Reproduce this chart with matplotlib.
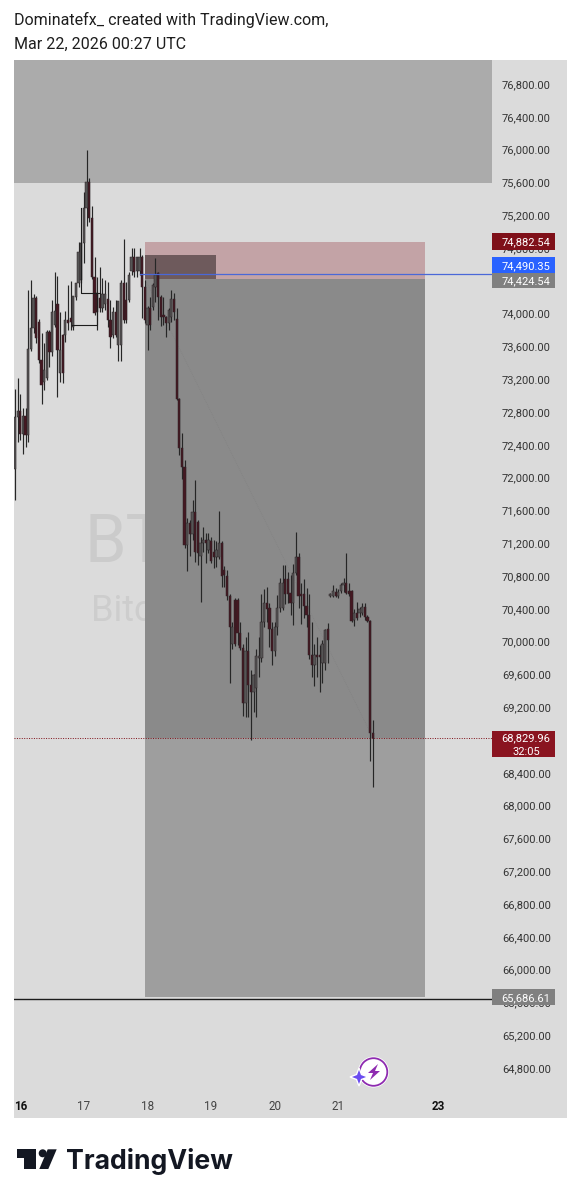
import matplotlib

matplotlib.use("Agg", force=True)
import matplotlib.pyplot as plt
from matplotlib.patches import Circle, Polygon, Rectangle

# hourly candles
opens = [72100, 72740, 72810, 72530, 72750, 72520, 73570, 73820, 74190, 73900,
         73430, 73160, 73210, 73780, 73530, 73860, 74120, 73270, 73740, 73740,
         73920, 73950, 73840, 74200, 74370, 74410, 74860, 75290, 75600, 75170,
         74450, 74250, 74190, 74070, 74120, 74180, 73920, 73740, 74020, 73620,
         73620, 74370, 74170, 74170, 74520, 74690, 74520, 74520, 74690, 74320,
         73860, 74070, 74080, 74320, 74500, 74200, 73980, 73960, 73880, 73960,
         74180, 73940, 72960, 72360, 72130, 71180, 71450, 71310, 71580, 71460,
         71050, 71200, 71240, 71120, 71230, 71090, 71030, 71030, 71200, 70870,
         70800, 70560, 69970, 70510, 70510, 70100, 69920, 69250, 69880, 69470,
         69380, 69430, 69800, 69800, 70240, 70470, 70410, 70150, 69880, 70180,
         70410, 70410, 70760, 70760, 70590, 70470, 70840, 71030, 70580, 70580,
         70440, 70320, 69840, 69720, 69840, 69840, 69740, 69740, 70150, 70560,
         70560, 70610, 70560, 70620, 70690, 70710, 70620, 70620, 70260, 70350,
         70350, 70350, 70420, 70300, 70250, 68890]
highs = [73080, 73210, 73020, 72850, 72850, 74290, 74410, 74240, 74210, 73940,
         73760, 73640, 73800, 73800, 74170, 74510, 74460, 74020, 73750, 74030,
         74350, 74400, 74210, 74370, 74870, 74870, 75480, 75995, 75650, 75310,
         74690, 74450, 74570, 74430, 74410, 74380, 74170, 74080, 74170, 74150,
         74410, 74910, 74380, 74510, 74800, 74800, 74690, 74800, 74720, 74410,
         74090, 74200, 74370, 74680, 74510, 74230, 74200, 73970, 74070, 74290,
         74250, 74070, 72970, 72540, 72210, 71510, 71480, 71730, 71970, 71480,
         71280, 71400, 71320, 71330, 71280, 71240, 71230, 71590, 71230, 70920,
         70870, 70580, 70240, 70530, 70530, 70240, 69970, 70060, 70120, 69650,
         69610, 69910, 70060, 70580, 70640, 70660, 70470, 70240, 70240, 70570,
         70770, 70940, 70940, 70850, 70810, 70950, 71340, 71080, 70710, 70760,
         70650, 70580, 70240, 69970, 70060, 69960, 70020, 70150, 70230, 70590,
         70690, 70650, 70640, 70720, 70770, 71080, 70710, 70630, 70400, 70480,
         70420, 70470, 70470, 70320, 70260, 69040]
lows = [71730, 72430, 72460, 72290, 72370, 72430, 73540, 73760, 73640, 73400,
        72900, 73070, 73190, 73350, 73480, 73840, 72980, 73160, 73150, 73650,
        73800, 73800, 73800, 74170, 74330, 74370, 74620, 75070, 75120, 74420,
        73980, 73800, 74020, 74020, 74040, 73840, 73580, 73700, 73710, 73420,
        73420, 73880, 73880, 74140, 74470, 74450, 74450, 74470, 73950, 73880,
        73560, 73800, 74040, 74140, 73920, 73850, 73860, 73710, 73800, 73900,
        73920, 72950, 72270, 71980, 71140, 70860, 71040, 71240, 70970, 70930,
        70480, 71090, 70960, 71080, 70960, 70900, 70910, 71010, 70670, 70670,
        70510, 69500, 69910, 69950, 69960, 69900, 69090, 69080, 69080, 68800,
        69140, 69080, 69570, 69750, 70180, 70240, 69930, 69710, 69830, 70080,
        70360, 70380, 70460, 70470, 70320, 70200, 70810, 70410, 70220, 70290,
        70180, 69790, 69570, 69460, 69570, 69380, 69500, 69650, 69740, 70540,
        70540, 70540, 70530, 70590, 70610, 70580, 70560, 70240, 70190, 70260,
        70300, 70320, 70260, 70240, 68540, 68230]
closes = [72740, 72810, 72530, 72750, 72520, 73570, 73820, 74190, 73700, 73430,
          73130, 73310, 73780, 73530, 74020, 74030, 73560, 73560, 73270, 73920,
          73880, 73900, 74210, 74370, 74750, 74860, 75290, 75600, 75170, 74450,
          74010, 74020, 74070, 74240, 74240, 73920, 73710, 74020, 73740, 74150,
          74370, 73920, 73920, 74470, 74690, 74510, 74690, 74690, 74320, 73920,
          74070, 73860, 74350, 74470, 74200, 73960, 73960, 73880, 74040, 74180,
          74020, 72960, 72360, 72130, 71180, 71450, 71310, 71580, 71090, 71080,
          71200, 71240, 71200, 71240, 70980, 71030, 71120, 71200, 70800, 70810,
          70560, 70180, 70180, 69970, 70100, 69920, 69250, 69880, 69470, 69380,
          69590, 69820, 69820, 70240, 70470, 70400, 70150, 69880, 70180, 70410,
          70710, 70710, 70580, 70580, 70470, 70840, 71030, 70560, 70560, 70440,
          70320, 69840, 69720, 69840, 69810, 69810, 69970, 70140, 70020, 70580,
          70620, 70560, 70610, 70690, 70710, 70590, 70580, 70250, 70350, 70290,
          70400, 70420, 70300, 70250, 68890, 68830]

price_ticks = list(range(64800, 77200, 400))
day_positions = [2, 26, 50, 74, 98, 122, 159.7]
day_labels = ["16", "17", "18", "19", "20", "21", "23"]
bold_days = ["16", "23"]

# drawing tool levels, as bar index and price
top_zone = (75593, 77093)
box_start, box_end, small_box_end = 49, 154.7, 75.85
stop_level = 74870
entry_level = 74424.54
target_level = 65660
line_level = 74480
last_price = 68829.96
target_line = 65640
small_box_top = 74710
path_one_x = [24.9, 24.9, 32]
path_one_y = [75290, 74250, 74250]
path_two_x = [21.5, 31, 31]
path_two_y = [73860, 73860, 74250]

BG = "#dbdbdb"
UP = "#555555"
DOWN = "#451822"
WICK = "#262626"
LABEL_FONT = ["Roboto", "DejaVu Sans"]
W, H = 581, 1200


def price_tag(ax, top, bottom, lines, color):
    trans = ax.get_yaxis_transform()
    box_w = 63 / 478
    ax.add_patch(Rectangle((1, bottom), box_w, top - bottom, transform=trans, color=color,
                           clip_on=False, zorder=6, lw=0))
    step = (top - bottom) / len(lines)
    for n, line in enumerate(lines):
        ax.text(1 + box_w * 0.54, top - step * (n + 0.5), line, transform=trans, color="white",
                ha="center", va="center_baseline", fontsize=8.0, family=LABEL_FONT, zorder=7, clip_on=False)


def draw_logo(page):
    black = "#131722"
    page.add_patch(Polygon([(16.7, 1149.3), (36, 1149.3), (36, 1169), (24.3, 1169), (24.3, 1158.3), (16.7, 1158.3)],
                           color=black, lw=0))
    page.add_patch(Circle((42.7, 1153.3), 4, color=black, lw=0))
    page.add_patch(Polygon([(47.7, 1149.3), (56.7, 1149.3), (48.3, 1169), (39.3, 1169)], color=black, lw=0))
    page.text(66, 1169, "TradingView", fontsize=19.2, family=["Inter", "DejaVu Sans"], weight="bold",
              color=black, va="baseline", ha="left")


def draw_badge(page):
    page.add_patch(Circle((373.5, 1072), 15.5, color="white", lw=0))
    page.add_patch(Circle((373.5, 1072), 13.8, facecolor="white", edgecolor="#8e2bb0", lw=1.3))
    page.add_patch(Polygon([(378, 1064), (368, 1073), (373, 1073), (370, 1080), (380, 1071), (375, 1071)],
                           color="#8e2bb0", lw=0))
    page.add_patch(Polygon([(359, 1068), (361.5, 1074.5), (368, 1077), (361.5, 1079.5), (359, 1086), (356.5, 1079.5),
                            (350, 1077), (356.5, 1074.5)], facecolor="#6a4cf0", edgecolor="white", lw=1))


def main():
    fig = plt.figure(figsize=(W / 100, H / 100), dpi=100, facecolor="white")

    page = fig.add_axes([0, 0, 1, 1], zorder=0)
    page.set_xlim(0, W)
    page.set_ylim(H, 0)
    page.axis("off")
    page.add_patch(Rectangle((14, 60), 553, 1058, color=BG, lw=0))
    page.text(14, 20, "Dominatefx_ created with TradingView.com,", fontsize=11.5, family=LABEL_FONT,
              color="#1e1e1e", va="center")
    page.text(14, 44, "Mar 22, 2026 00:27 UTC", fontsize=11.5, family=LABEL_FONT, color="#1e1e1e", va="center")
    draw_logo(page)

    ax = fig.add_axes([14 / W, 1 - 1092 / H, 478 / W, 1032 / H], zorder=1)
    ax.patch.set_alpha(0)
    ax.set_xlim(-0.38, 180)
    ax.set_ylim(64507, 77093)
    for side in ax.spines.values():
        side.set_visible(False)

    # watermark sits under the position box
    ax.text(26.3, 71180, "BTCUSDT", fontsize=48, color="#cbcbcb", family=LABEL_FONT, va="center", zorder=0.5)
    ax.text(28.5, 70380, "Bitcoin / TetherUS", fontsize=26, color="#cdcdcd", family=LABEL_FONT, va="center",
            zorder=0.5)

    ax.axhspan(top_zone[0], top_zone[1], color="#ababab", lw=0, zorder=1)
    ax.fill_between([box_start, box_end], stop_level, entry_level, color="#c3a3a6", lw=0, zorder=1)
    ax.fill_between([box_start, box_end], entry_level, last_price, color="#8a8a8a", lw=0, zorder=1)
    ax.fill_between([box_start, box_end], last_price, target_level, color="#9e9e9e", lw=0, zorder=1)
    ax.fill_between([box_start, small_box_end], small_box_top, entry_level, color="#6e5a5c", lw=0, zorder=1.2)
    ax.plot([box_start, 135], [entry_level, last_price], color="#808080", lw=0.5, ls=":", zorder=1.3)

    ax.axhline(last_price, color="#7f1019", lw=0.7, ls=(0, (1, 1.5)), zorder=1.5)
    ax.axhline(target_line, color="#1c1c1c", lw=1.0, zorder=1.5)

    idx = list(range(len(opens)))
    ax.vlines(idx, lows, highs, color=WICK, lw=0.85, zorder=2)
    bottoms = [min(o, c) for o, c in zip(opens, closes)]
    heights = [max(abs(c - o), 25) for o, c in zip(opens, closes)]
    colors = [UP if c >= o else DOWN for o, c in zip(opens, closes)]
    ax.bar(idx, heights, bottom=bottoms, width=0.85, color=colors, edgecolor="#2c2226", lw=0.35, zorder=3)

    ax.plot(path_one_x, path_one_y, color="#1c1c1c", lw=0.8, zorder=3.2)
    ax.plot(path_two_x, path_two_y, color="#1c1c1c", lw=0.8, zorder=3.2)
    ax.plot([47.2, 180], [line_level, line_level], color="#4a68d8", lw=0.9, zorder=3.4)

    ax.yaxis.tick_right()
    ax.set_yticks(price_ticks)
    ax.set_yticklabels(["{:,.2f}".format(p) for p in price_ticks], family=LABEL_FONT, fontsize=8.0, color="#333333")
    ax.tick_params(axis="y", length=0, pad=7.2)

    ax.set_xticks(day_positions)
    ax.set_xticklabels(day_labels, family=LABEL_FONT, fontsize=8.4, color="#444444")
    for label in ax.get_xticklabels():
        if label.get_text() in bold_days:
            label.set_fontweight("bold")
            label.set_color("#111111")
    ax.tick_params(axis="x", length=0, pad=5.5)

    price_tag(ax, 74985, 74780, ["74,882.54"], "#7f1019")
    price_tag(ax, 74690, 74495, ["74,490.35"], "#2962ff")
    price_tag(ax, 74495, 74310, ["74,424.54"], "#808080")
    price_tag(ax, 65760, 65565, ["65,686.61"], "#808080")
    price_tag(ax, 68910, 68590, ["68,829.96", "32:05"], "#8a1420")

    overlay = fig.add_axes([0, 0, 1, 1], zorder=2)
    overlay.set_xlim(0, W)
    overlay.set_ylim(H, 0)
    overlay.axis("off")
    overlay.patch.set_alpha(0)
    draw_badge(overlay)

    fig.savefig("out.png", dpi=100, facecolor="white")
    plt.close(fig)


if __name__ == "__main__":
    main()
